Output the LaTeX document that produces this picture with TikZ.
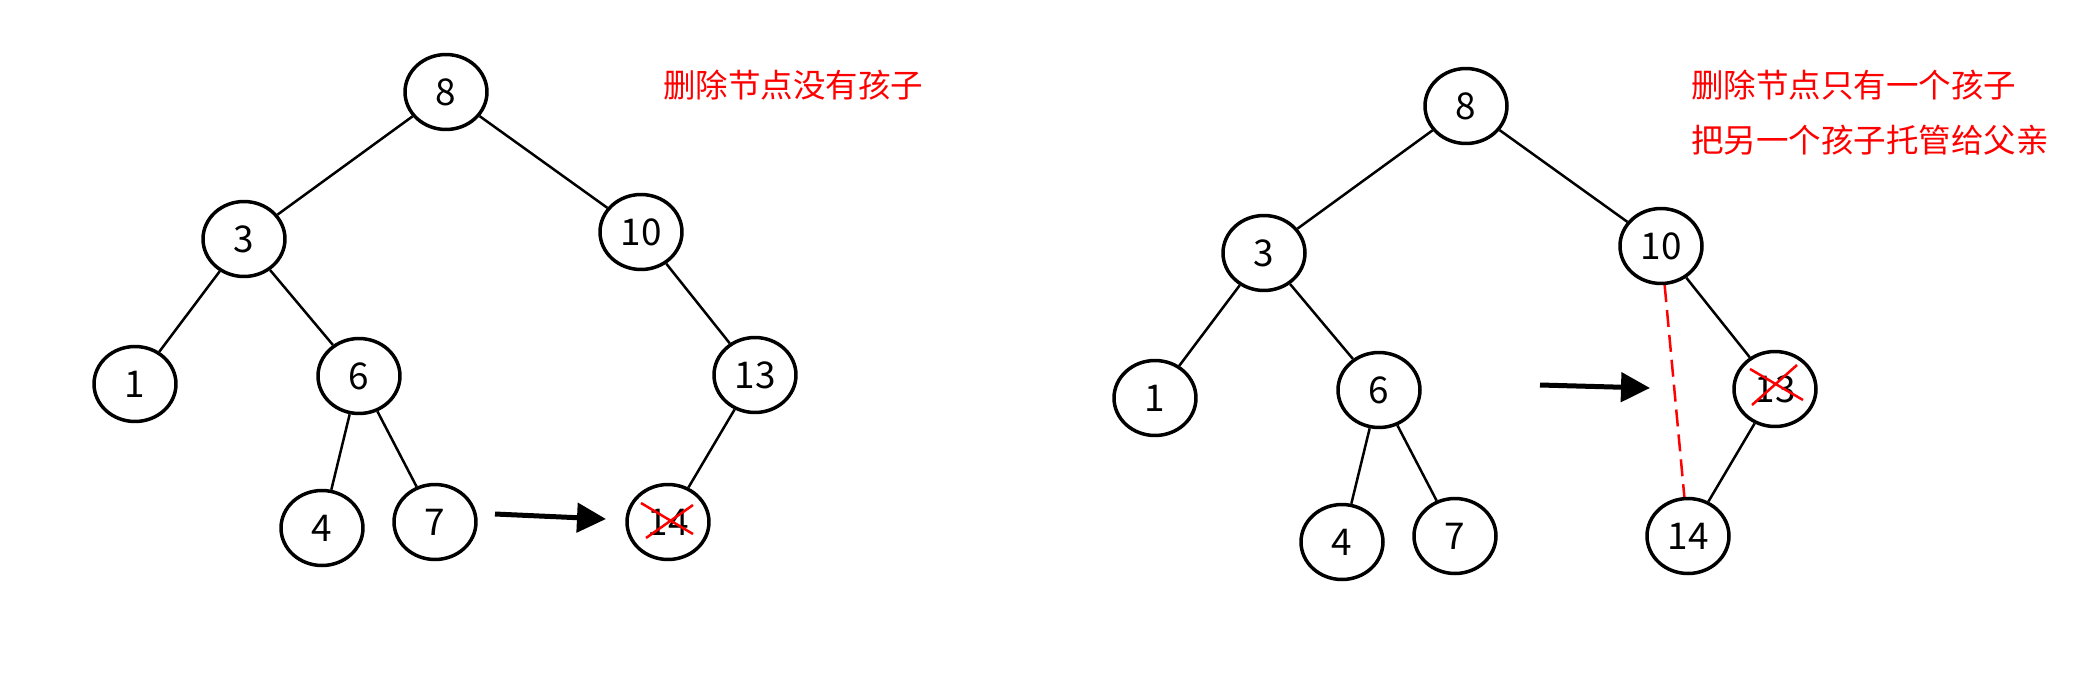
\documentclass[tikz,border=0pt]{standalone}
\usepackage{fontspec}
\setmainfont{Noto Sans CJK SC}
\usetikzlibrary{arrows.meta,shapes.geometric}
\tikzset{tnode/.style={ellipse,draw,line width=0.07cm,minimum width=1.64cm,minimum height=1.5cm,inner sep=0pt,font=\fontsize{21}{25}\selectfont},
  tedge/.style={line width=0.05cm},
  xmark/.style={red,line width=0.05cm},
  note/.style={red,anchor=west,inner sep=0pt,font=\fontsize{18.5}{22}\selectfont}}

\begin{document}
\begin{tikzpicture}[x=0.02cm,y=-0.02cm,line join=round]
\useasboundingbox (0,0) rectangle (2094,677);
% --- left: the removed node is a leaf
\begin{scope}
\node[tnode] (l8) at (446,92) {8};
\node[tnode] (l3) at (244,239) {3}; \node[tnode] (l10) at (641,232) {10};
\node[tnode] (l1) at (135,384) {1}; \node[tnode] (l6) at (359,376) {6}; \node[tnode] (l13) at (755,375) {13};
\node[tnode] (l4) at (322,528) {4}; \node[tnode] (l7) at (435,522) {7}; \node[tnode] (l14) at (668,522) {14};
\draw[tedge] (l8) -- (l3) (l8) -- (l10) (l3) -- (l1) (l3) -- (l6) (l6) -- (l4) (l6) -- (l7) (l10) -- (l13) (l13) -- (l14);
\draw[xmark] ([shift={(-27,-19)}]l14.center) -- ([shift={(25,12)}]l14.center) ([shift={(-22,16)}]l14.center) -- ([shift={(25,-17)}]l14.center);
\end{scope}
\coordinate (la) at (495,514); \coordinate (lb) at (606,519);
\draw[line width=0.1cm,-{Triangle[length=0.58cm,width=0.58cm]}] (la) -- (lb);
\node[note] (lt) at (663,85) {删除节点没有孩子};
% --- right: the removed node has one child
\begin{scope}[shift={(1020,14)}]
\node[tnode] (r8) at (446,92) {8};
\node[tnode] (r3) at (244,239) {3}; \node[tnode] (r10) at (641,232) {10};
\node[tnode] (r1) at (135,384) {1}; \node[tnode] (r6) at (359,376) {6}; \node[tnode] (r13) at (755,375) {13};
\node[tnode] (r4) at (322,528) {4}; \node[tnode] (r7) at (435,522) {7}; \node[tnode] (r14) at (668,522) {14};
\draw[tedge] (r8) -- (r3) (r8) -- (r10) (r3) -- (r1) (r3) -- (r6) (r6) -- (r4) (r6) -- (r7) (r10) -- (r13) (r13) -- (r14);
\draw[xmark] ([shift={(-25,-20)}]r13.center) -- ([shift={(28,11)}]r13.center) ([shift={(-23,16)}]r13.center) -- ([shift={(22,-24)}]r13.center);
\draw[red,line width=0.05cm,dash pattern=on 0.34cm off 0.16cm] (r10) -- (r14);
\end{scope}
\coordinate (ra) at (1540,385); \coordinate (rb) at (1650,388);
\draw[line width=0.1cm,-{Triangle[length=0.58cm,width=0.58cm]}] (ra) -- (rb);
\node[note] (rt1) at (1691,85) {删除节点只有一个孩子};
\node[note] (rt2) at (1691,140) {把另一个孩子托管给父亲};
\end{tikzpicture}
\end{document}
